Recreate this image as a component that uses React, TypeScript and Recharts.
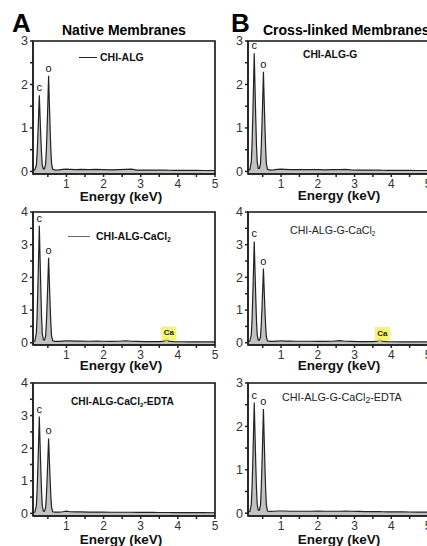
import React from 'react';
import { ComposedChart, Area, XAxis, YAxis, ReferenceDot, ReferenceArea } from 'recharts';

// energy grid (keV), shared by all six spectra
const energy = [
  0.1, 0.15, 0.19, 0.21, 0.23, 0.25, 0.27, 0.29, 0.31, 0.33,
  0.35, 0.38, 0.41, 0.44, 0.46, 0.48, 0.5, 0.52, 0.54, 0.56,
  0.58, 0.6, 0.63, 0.7, 0.8, 0.9, 1.0, 1.1, 1.25, 1.4,
  1.6, 1.8, 2.0, 2.2, 2.4, 2.6, 2.75, 2.9, 3.1, 3.3,
  3.5, 3.62, 3.69, 3.76, 3.9, 4.1, 4.3, 4.5, 4.7, 5.0,
];

// counts (a.u.)
const chiAlg = [
  0.03, 0.04, 0.14, 0.4, 0.8, 1.26, 1.75, 1.26, 0.8, 0.4,
  0.14, 0.06, 0.06, 0.18, 0.5, 1.0, 1.58, 2.2, 1.58, 1.0,
  0.5, 0.18, 0.05, 0.03, 0.035, 0.045, 0.05, 0.045, 0.04, 0.045,
  0.04, 0.045, 0.04, 0.035, 0.04, 0.045, 0.05, 0.03, 0.03, 0.028,
  0.028, 0.027, 0.027, 0.026, 0.025, 0.025, 0.022, 0.022, 0.02, 0.02,
];
const chiAlgCa = [
  0.04, 0.05, 0.29, 0.82, 1.65, 2.58, 3.58, 2.58, 1.65, 0.82,
  0.29, 0.09, 0.08, 0.21, 0.6, 1.2, 1.87, 2.6, 1.87, 1.2,
  0.6, 0.21, 0.06, 0.04, 0.04, 0.05, 0.06, 0.055, 0.05, 0.05,
  0.045, 0.05, 0.045, 0.04, 0.045, 0.06, 0.045, 0.04, 0.035, 0.035,
  0.035, 0.05, 0.1, 0.05, 0.03, 0.03, 0.028, 0.027, 0.025, 0.025,
];
const chiAlgCaEdta = [
  0.03, 0.04, 0.24, 0.68, 1.37, 2.14, 2.97, 2.14, 1.37, 0.68,
  0.24, 0.07, 0.07, 0.18, 0.53, 1.06, 1.66, 2.3, 1.66, 1.06,
  0.53, 0.18, 0.05, 0.04, 0.04, 0.05, 0.07, 0.05, 0.045, 0.045,
  0.04, 0.04, 0.04, 0.035, 0.035, 0.035, 0.035, 0.03, 0.03, 0.03,
  0.028, 0.028, 0.027, 0.027, 0.026, 0.025, 0.024, 0.023, 0.022, 0.02,
];
const chiAlgG = [
  0.03, 0.04, 0.22, 0.63, 1.25, 1.96, 2.72, 1.96, 1.25, 0.63,
  0.22, 0.07, 0.07, 0.18, 0.53, 1.05, 1.65, 2.29, 1.65, 1.05,
  0.53, 0.18, 0.05, 0.03, 0.035, 0.045, 0.05, 0.045, 0.04, 0.04,
  0.04, 0.04, 0.04, 0.035, 0.04, 0.04, 0.045, 0.035, 0.03, 0.03,
  0.028, 0.027, 0.027, 0.026, 0.025, 0.025, 0.023, 0.022, 0.021, 0.02,
];
const chiAlgGCa = [
  0.04, 0.05, 0.25, 0.71, 1.43, 2.23, 3.1, 2.23, 1.43, 0.71,
  0.25, 0.08, 0.08, 0.18, 0.52, 1.04, 1.63, 2.27, 1.63, 1.04,
  0.52, 0.18, 0.06, 0.04, 0.04, 0.05, 0.06, 0.05, 0.05, 0.045,
  0.045, 0.045, 0.04, 0.04, 0.045, 0.065, 0.045, 0.04, 0.035, 0.035,
  0.035, 0.05, 0.09, 0.05, 0.03, 0.03, 0.028, 0.027, 0.025, 0.025,
];
const chiAlgGCaEdta = [
  0.03, 0.04, 0.2, 0.59, 1.17, 1.84, 2.55, 1.84, 1.17, 0.59,
  0.2, 0.07, 0.07, 0.19, 0.55, 1.1, 1.73, 2.4, 1.73, 1.1,
  0.55, 0.19, 0.05, 0.04, 0.045, 0.05, 0.05, 0.05, 0.045, 0.045,
  0.045, 0.045, 0.05, 0.045, 0.045, 0.045, 0.05, 0.045, 0.04, 0.035,
  0.035, 0.035, 0.035, 0.033, 0.03, 0.03, 0.028, 0.027, 0.025, 0.025,
];

const xTicks = [0.5, 1, 1.5, 2, 2.5, 3, 3.5, 4, 4.5, 5];
const yTicks3 = [0, 0.5, 1, 1.5, 2, 2.5, 3];
const yTicks4 = [0, 0.5, 1, 1.5, 2, 2.5, 3, 3.5, 4];
const C_E = 0.27;
const O_E = 0.52;
const CA_E = 3.69;

const X_MIN = 0.1;
const X_MAX = 5;
const FONT = '"Liberation Sans", Arial, Helvetica, sans-serif';
const H = 133;
const YW = 22;
const PAD = 8;
const XH = 24;

const fmt = (v: number) => (Number.isInteger(v) ? String(v) : '');

const PeakLabel = ({ cx, cy, text }: any) => (
  <text x={cx} y={cy - 4} textAnchor="middle" fontSize={11} fill="#111" fontFamily={FONT}>
    {text}
  </text>
);

const CaTag = ({ cx, cy }: any) => (
  <g>
    <rect x={cx - 5} y={cy - 13} width={15} height={14} fill="#f5f25c" fillOpacity={0.85} />
    <text x={cx + 2.5} y={cy - 4} textAnchor="middle" fontSize={8} fontWeight="bold" fill="#222" fontFamily={FONT}>
      Ca
    </text>
  </g>
);

interface PanelProps {
  left: number;
  top: number;
  width: number;
  values: number[];
  yMin: number;
  yMax: number;
  yTicks: number[];
  ca?: boolean;
}

const Panel = ({ left, top, width, values, yMin, yMax, yTicks, ca }: PanelProps) => {
  const data = energy.map((e, i) => ({ e, v: values[i] }));
  const cVal = values[energy.indexOf(C_E)];
  const oVal = values[energy.indexOf(O_E)];
  const caVal = values[energy.indexOf(CA_E)];
  return (
    <div style={{ position: 'absolute', left: left - YW, top: top - PAD }}>
      <ComposedChart
        width={YW + width + PAD}
        height={PAD + H + XH}
        data={data}
        margin={{ top: PAD, right: PAD, left: 0, bottom: 0 }}
        style={{ fontFamily: FONT }}
      >
        <XAxis
          dataKey="e"
          type="number"
          domain={[X_MIN, X_MAX]}
          ticks={xTicks}
          interval={0}
          tickFormatter={fmt}
          tickSize={3}
          tick={{ fontSize: 12, fill: '#333' }}
          stroke="#222"
          strokeWidth={1.5}
          height={XH}
          allowDataOverflow
        />
        <YAxis
          type="number"
          domain={[yMin, yMax]}
          ticks={yTicks}
          interval={0}
          tickFormatter={fmt}
          tickSize={3}
          tick={{ fontSize: 12.5, fill: '#333' }}
          stroke="#222"
          strokeWidth={1.5}
          width={YW}
          allowDataOverflow
        />
        <Area
          type="linear"
          dataKey="v"
          stroke="#222"
          strokeWidth={1.2}
          fill="#c2c2c2"
          fillOpacity={1}
          baseValue="dataMin"
          dot={false}
          activeDot={false}
          isAnimationActive={false}
        />
        <ReferenceArea x1={X_MIN} x2={X_MAX} y1={yMin} y2={yMax} fill="none" stroke="#111" strokeWidth={1.6} />
        <ReferenceDot x={C_E} y={cVal} r={0} shape={(p: any) => <PeakLabel cx={p.cx} cy={p.cy} text="c" />} />
        <ReferenceDot x={O_E} y={oVal} r={0} shape={(p: any) => <PeakLabel cx={p.cx} cy={p.cy} text="o" />} />
        {ca && <ReferenceDot x={CA_E} y={caVal} r={0} shape={(p: any) => <CaTag cx={p.cx} cy={p.cy} />} />}
      </ComposedChart>
    </div>
  );
};

const abs = (left: number, top: number, extra: React.CSSProperties = {}): React.CSSProperties => ({
  position: 'absolute',
  left,
  top,
  lineHeight: 1,
  whiteSpace: 'nowrap',
  fontFamily: FONT,
  color: '#111',
  ...extra,
});

const sub: React.CSSProperties = { fontSize: '0.6em', verticalAlign: '-0.25em', lineHeight: 0 };

const EnergyTitle = ({ cx, cy }: { cx: number; cy: number }) => (
  <div style={abs(cx - 60, cy - 7, { width: 120, textAlign: 'center', fontSize: 13.5, fontWeight: 'bold' })}>
    Energy (keV)
  </div>
);

const LegendLine = ({ x1, x2, y, color }: { x1: number; x2: number; y: number; color: string }) => (
  <div style={{ position: 'absolute', left: x1, top: y - 0.5, width: x2 - x1, height: 1, background: color }} />
);

const App = () => {
  return (
    <div
      style={{
        position: 'absolute',
        left: 0,
        top: 0,
        width: 427,
        height: 546,
        overflow: 'hidden',
        background: '#fff',
      }}
    >
      <div style={abs(12, 10, { fontSize: 26, fontWeight: 'bold', color: '#000' })}>A</div>
      <div style={abs(62, 22.5, { fontSize: 14, fontWeight: 'bold', color: '#000' })}>Native Membranes</div>
      <div style={abs(231, 10, { fontSize: 26, fontWeight: 'bold', color: '#000' })}>B</div>
      <div style={abs(263, 22.5, { fontSize: 14, fontWeight: 'bold', color: '#000' })}>Cross-linked Membranes</div>

      <Panel left={33} top={41} width={182} values={chiAlg} yMin={-0.06} yMax={3} yTicks={yTicks3} />
      <Panel left={33} top={212} width={182} values={chiAlgCa} yMin={-0.07} yMax={4} yTicks={yTicks4} ca />
      <Panel left={33} top={383} width={182} values={chiAlgCaEdta} yMin={-0.08} yMax={4} yTicks={yTicks4} />
      <Panel left={248} top={41} width={180} values={chiAlgG} yMin={-0.06} yMax={3} yTicks={yTicks3} />
      <Panel left={248} top={212} width={180} values={chiAlgGCa} yMin={-0.07} yMax={4} yTicks={yTicks4} ca />
      <Panel left={248} top={383} width={180} values={chiAlgGCaEdta} yMin={-0.065} yMax={3} yTicks={yTicks3} />

      <LegendLine x1={79} x2={97} y={57.3} color="#222" />
      <div style={abs(100, 52, { fontSize: 10.5, fontWeight: 'bold' })}>CHI-ALG</div>
      <LegendLine x1={68} x2={90} y={236} color="#666" />
      <div style={abs(96, 231, { fontSize: 10.5, fontWeight: 'bold' })}>
        CHI-ALG-CaCl<span style={sub}>2</span>
      </div>
      <div style={abs(71, 397, { fontSize: 10.2, fontWeight: 'bold' })}>
        CHI-ALG-CaCl<span style={sub}>2</span>-EDTA
      </div>
      <div style={abs(303, 50, { fontSize: 10.3, fontWeight: 'bold' })}>CHI-ALG-G</div>
      <div style={abs(290, 225, { fontSize: 10.6, color: '#222' })}>
        CHI-ALG-G-CaCl<span style={sub}>2</span>
      </div>
      <div style={abs(282, 391.5, { fontSize: 10.8, color: '#222' })}>
        CHI-ALG-G-CaCl<span style={{ fontSize: '0.8em', verticalAlign: '-0.2em', lineHeight: 0 }}>2</span>-EDTA
      </div>

      <EnergyTitle cx={121} cy={196.5} />
      <EnergyTitle cx={121} cy={366} />
      <EnergyTitle cx={121} cy={539.5} />
      <EnergyTitle cx={339} cy={196} />
      <EnergyTitle cx={339} cy={366} />
      <EnergyTitle cx={339} cy={539.5} />
    </div>
  );
};

export default App;
